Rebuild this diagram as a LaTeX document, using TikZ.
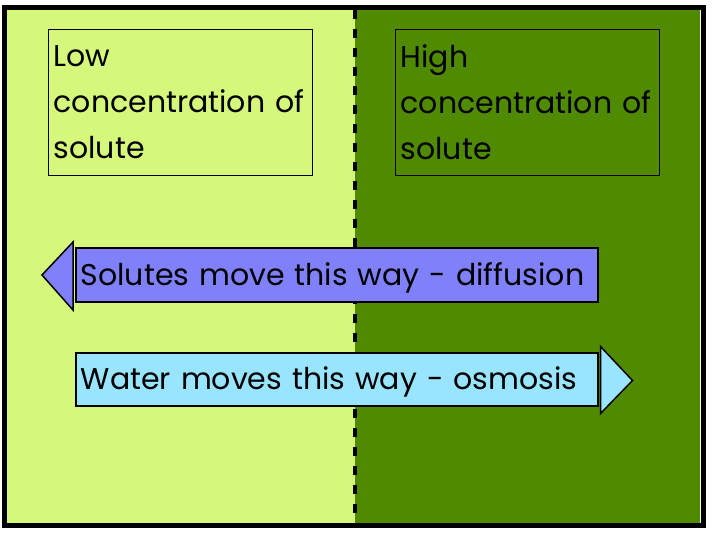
\documentclass[tikz,border=0pt]{standalone}
\usepackage{fontspec}
\setmainfont{Poppins}[Ligatures=NoCommon]
\usetikzlibrary{positioning,calc}

\definecolor{lowgreen}{HTML}{D5F77B}
\definecolor{highgreen}{HTML}{4F8A00}
\definecolor{soluteblue}{HTML}{8080F8}
\definecolor{waterblue}{HTML}{99E5FF}

\tikzset{
    labelbox/.style={draw=black, line width=1.3pt, anchor=north west, align=left,
        text width=254pt, inner xsep=5pt, minimum height=146pt,
        font=\fontsize{30}{46}\selectfont},
    shaft/.style={draw=black, line width=1.5pt, anchor=west, align=left,
        text width=512pt, inner xsep=5pt, inner ysep=0pt,
        text height=27pt, text depth=7pt,
        font=\fontsize{30}{36}\selectfont},
    head/.style={draw=black, line width=1.5pt, line join=miter}
}

\begin{document}
\begin{tikzpicture}[x=1pt,y=-1pt]
    \useasboundingbox[fill=white] (0,0) rectangle (712,536);
    % the two sides
    \fill[lowgreen] (7,10) rectangle (355,523);
    \fill[highgreen] (355,10) rectangle (700,523);
    % membrane
    \draw[line width=4pt, dash pattern=on 8.5pt off 10.5pt] (355,10) -- (355,523);
    % labels
    \node[labelbox] (low) at (48,29) {Low\\concentration of\\solute};
    \node[labelbox] (high) at (395,29) {High\\concentration of\\solute};
    % solutes arrow
    \node[shaft, fill=soluteblue, minimum height=54pt] (solutes) at (75,275) {Solutes move this way - diffusion};
    \draw[head, fill=soluteblue] ($(solutes.west)+(-2,-33)$) -- ($(solutes.west)+(-33,0)$) -- ($(solutes.west)+(-2,35)$) -- cycle;
    % water arrow
    \node[shaft, fill=waterblue, minimum height=53pt] (water) at (75,379.5) {Water moves this way - osmosis};
    \draw[head, fill=waterblue] ($(water.east)+(2,-33)$) -- ($(water.east)+(34,1)$) -- ($(water.east)+(2,34)$) -- cycle;
    % frame
    \draw[line width=5pt] (4.5,7.5) rectangle (703,525.5);
\end{tikzpicture}
\end{document}
